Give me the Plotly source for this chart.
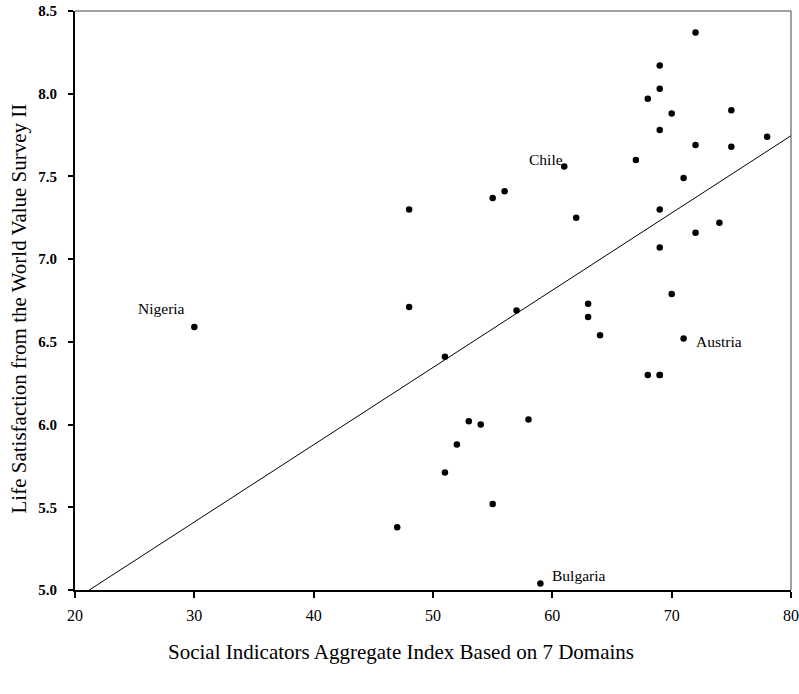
import plotly.graph_objects as go

# Social Indicators Aggregate Index (x) and Life Satisfaction (y)
social_index = [30, 48, 48, 47, 51, 51, 52, 53, 54, 55, 55, 56, 57, 58, 59, 61, 62,
                63, 63, 64, 67, 68, 68, 69, 69, 69, 69, 69, 69, 69, 70, 70, 71, 71,
                72, 72, 72, 74, 75, 75, 78]
life_satisfaction = [6.59, 7.30, 6.71, 5.38, 6.41, 5.71, 5.88, 6.02, 6.00, 7.37, 5.52, 7.41, 6.69, 6.03, 5.04, 7.56, 7.25,
                     6.73, 6.65, 6.54, 7.60, 7.97, 6.30, 8.17, 8.03, 7.78, 7.30, 7.07, 6.30, 6.30, 7.88, 6.79, 7.49, 6.52,
                     8.37, 7.69, 7.16, 7.22, 7.90, 7.68, 7.74]

# fitted regression line
fit_intercept = 4.01
fit_slope = 0.0467
fit_x = [20, 80]
fit_y = [fit_intercept + fit_slope * v for v in fit_x]

# labelled countries
label_names = ["Nigeria", "Chile", "Austria", "Bulgaria"]
label_x = [27.25, 59.45, 73.95, 62.2]
label_y = [6.70, 7.60, 6.50, 5.09]

x_ticks = [20, 30, 40, 50, 60, 70, 80]
y_ticks = [5.0, 5.5, 6.0, 6.5, 7.0, 7.5, 8.0, 8.5]

SERIF = "Liberation Serif"

fig = go.Figure()
fig.add_trace(go.Scatter(x=fit_x, y=fit_y, mode="lines",
                         line=dict(color="black", width=1), showlegend=False,
                         hoverinfo="skip"))
fig.add_trace(go.Scatter(x=social_index, y=life_satisfaction, mode="markers",
                         marker=dict(color="black", size=6.5), showlegend=False,
                         cliponaxis=False))

for n, lx, ly in zip(label_names, label_x, label_y):
    fig.add_annotation(x=lx, y=ly, text=n, showarrow=False,
                       font=dict(family=SERIF, size=15.5, color="black"))

fig.add_annotation(xref="paper", yref="paper", x=(401 - 75) / 716, y=0,
                   yanchor="middle", yshift=-61.5,
                   text="Social Indicators Aggregate Index Based on 7 Domains",
                   showarrow=False, font=dict(family=SERIF, size=21, color="black"))
fig.add_annotation(xref="paper", yref="paper", x=0, y=0.5, xanchor="center",
                   yanchor="middle", xshift=-57, yshift=-8, textangle=-90,
                   text="Life Satisfaction from the World Value Survey II",
                   showarrow=False, font=dict(family=SERIF, size=21, color="black"))

# thin top and right frame lines
fig.add_shape(type="line", xref="paper", yref="paper", x0=0, x1=1, y0=1, y1=1,
              line=dict(color="#444", width=1))
fig.add_shape(type="line", xref="paper", yref="paper", x0=1, x1=1, y0=0, y1=1,
              line=dict(color="#444", width=1))

fig.update_xaxes(range=[20, 80], tickvals=x_ticks, ticktext=[str(v) for v in x_ticks],
                 showgrid=False, zeroline=False, showline=True, linecolor="black",
                 linewidth=2, ticks="outside", ticklen=6, tickwidth=2, tickcolor="black",
                 automargin=False, ticklabeloverflow="allow", ticklabelstandoff=4,
                 tickfont=dict(family=SERIF, size=16, color="black"))
fig.update_yaxes(range=[5.0, 8.5], tickvals=y_ticks, ticktext=[f"{v:.1f}" for v in y_ticks],
                 showgrid=False, zeroline=False, showline=True, linecolor="black",
                 linewidth=2, ticks="outside", ticklen=5, tickwidth=2, tickcolor="black",
                 automargin=False, ticklabeloverflow="allow", ticklabelstandoff=8,
                 tickfont=dict(family=SERIF, size=15, color="black", weight="bold"))

fig.update_layout(width=799, height=694, plot_bgcolor="white", paper_bgcolor="white",
                  margin=dict(l=75, r=8, t=11, b=103.5, pad=0))

# remove the default 8px page margin so the figure fills the window exactly
fig.write_html("out.html", config={"displayModeBar": False},
               post_script="document.body.style.margin='0';document.body.style.overflow='hidden';")
